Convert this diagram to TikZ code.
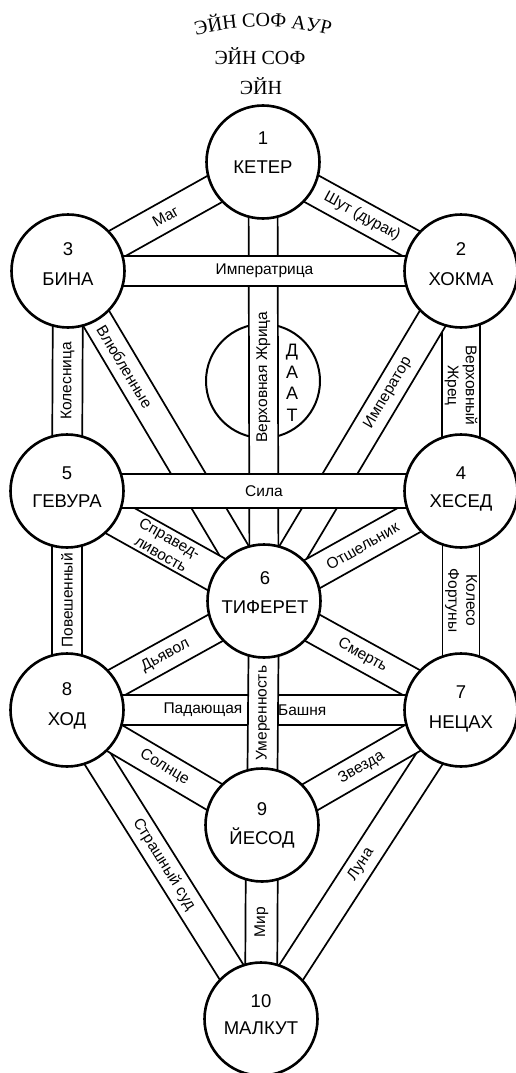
\documentclass[tikz,border=0pt]{standalone}
\usepackage{fontspec}
\setmainfont{Liberation Sans}
\newfontfamily\topfam{Liberation Serif}
\usetikzlibrary{calc,decorations.text}
\pgfdeclarelayer{back}
\pgfdeclarelayer{bg}
\pgfsetlayers{back,bg,main}
\tikzset{
  sefira/.style={circle, draw, line width=2.6pt, fill=white, minimum size=113pt, inner sep=0pt},
  daatc/.style={circle, draw, line width=2pt, fill=white, minimum size=114pt, inner sep=0pt},
  bandbox/.style={draw, line width=1.7pt, fill=white, line join=miter},
  plabel/.style={font=\fontsize{15.5}{18}\selectfont, inner sep=0pt, align=center},
  nlabel/.style={font=\fontsize{18.5}{20}\selectfont, inner sep=0pt, text height=13pt, text depth=0pt},
  toptext/.style={font=\topfam\fontsize{20}{22}\selectfont, inner sep=0pt},
}
\newcommand\band[3]{%
  \path[bandbox] ($(#1)!#3!90:(#2)$) -- ($(#2)!#3!-90:(#1)$) -- ($(#2)!#3!90:(#1)$) -- ($(#1)!#3!-90:(#2)$) -- cycle;}
\begin{document}
\begin{tikzpicture}[x=1pt,y=-1pt]
\useasboundingbox (0,0) rectangle (516,1073);
\begin{pgfonlayer}{back}
  \fill[white] (0,0) rectangle (516,1073);
\end{pgfonlayer}

% top texts
\path[decorate, decoration={text along path, text align=center,
  text={|\topfam\fontsize{20}{22}\selectfont|ЭЙН СОФ АУР}}]
  (188,37.3) arc[start angle=254.3, end angle=285.7, radius=277];
\node[toptext] (einsof) at (260,56) {ЭЙН СОФ};
\node[toptext] (ein) at (261,86) {ЭЙН};

% sefirot
\node[sefira] (keter)   at (263,162) {};
\node[sefira] (bina)    at (68,271) {};
\node[sefira] (hokma)   at (461,271) {};
\node[sefira] (gevura)  at (67,491) {};
\node[sefira] (hesed)   at (461,491) {};
\node[sefira] (tiferet) at (264,601) {};
\node[sefira] (hod)     at (67,710) {};
\node[sefira] (netzach) at (461,710) {};
\node[sefira] (yesod)   at (262,825) {};
\node[sefira] (malkut)  at (261,1019) {};

\node[nlabel] (n1) at (263,138) {1};
\node[nlabel] (t1) at (263,167) {КЕТЕР};
\node[nlabel] (n3) at (68,249) {3};
\node[nlabel] (t3) at (68,279) {БИНА};
\node[nlabel] (n2) at (461,249) {2};
\node[nlabel] (t2) at (461,279) {ХОКМА};
\node[nlabel] (n5) at (67,473) {5};
\node[nlabel] (t5) at (67,501) {ГЕВУРА};
\node[nlabel] (n4) at (461,473) {4};
\node[nlabel] (t4) at (461,501) {ХЕСЕД};
\node[nlabel] (n6) at (265,578) {6};
\node[nlabel] (t6) at (265,607) {ТИФЕРЕТ};
\node[nlabel] (n8) at (67,689) {8};
\node[nlabel] (t8) at (67,719) {ХОД};
\node[nlabel] (n7) at (461,692) {7};
\node[nlabel] (t7) at (461,722) {НЕЦАХ};
\node[nlabel] (n9) at (262,809) {9};
\node[nlabel] (t9) at (262,838) {ЙЕСОД};
\node[nlabel] (n10) at (261,1001) {10};
\node[nlabel] (t10) at (261,1028) {МАЛКУТ};

\begin{pgfonlayer}{bg}
  \node[daatc] (daat) at (263,381) {};
  \node[plabel, font=\fontsize{18}{21.5}\selectfont] (daatl) at (292,383) {Д\\А\\А\\Т};

  \band{keter}{bina}{15pt}
  \node[plabel, rotate=29] (lmag) at ($(keter)!.5!(bina)$) {Маг};
  \band{keter}{hokma}{15pt}
  \node[plabel, rotate=-28.6] (lshut) at ($(keter)!.5!(hokma)$) {Шут (дурак)};
  \band{bina}{gevura}{15pt}
  \node[plabel, rotate=90] (lkol) at ($(bina)!.5!(gevura)$) {Колесница};
  \band{hokma}{hesed}{19pt}
  \node[plabel, rotate=-90] (lzhrets) at ($(hokma)!.52!(hesed)$) {Верховный\\Жрец};
  \band{bina}{tiferet}{15pt}
  \node[plabel, rotate=-59] (lvl) at ($(bina)!.29!(tiferet)$) {Влюбленные};
  \band{hokma}{tiferet}{15pt}
  \node[plabel, rotate=59.5] (limpr) at ($(hokma)!.37!(tiferet)$) {Император};
  \band{keter}{tiferet}{14.5pt}
  \node[plabel, rotate=90] (lzhr) at ($(keter)!.49!(tiferet)$) {Верховная Жрица};
  \band{bina}{hokma}{15pt}
  \node[plabel] (limpa) at ($(bina)!.5!(hokma)$) {Императрица};
  \band{gevura}{tiferet}{18pt}
  \node[plabel, rotate=-29.4] (lspr) at ($(gevura)!.5!(tiferet)$) {Справед-\\ливость};
  \band{hesed}{tiferet}{16pt}
  \node[plabel, rotate=30] (lotsh) at ($(hesed)!.5!(tiferet)$) {Отшельник};
  \band{gevura}{hesed}{17pt}
  \node[plabel] (lsila) at ($(gevura)!.5!(hesed)$) {Сила};

  \band{gevura}{hod}{15pt}
  \node[plabel, rotate=90] (lpov) at ($(gevura)!.5!(hod)$) {Повешенный};
  \band{hesed}{netzach}{18.5pt}
  \node[plabel, rotate=-90] (lkoleso) at ($(hesed)!.5!(netzach)$) {Колесо\\Фортуны};
  \band{hod}{tiferet}{15pt}
  \node[plabel, rotate=28] (ldyav) at ($(hod)!.5!(tiferet)$) {Дьявол};
  \band{tiferet}{netzach}{15pt}
  \node[plabel, rotate=-29] (lsmert) at ($(tiferet)!.5!(netzach)$) {Смерть};
  \band{hod}{malkut}{14pt}
  \node[plabel, rotate=-58] (lsud) at ($(hod)!.5!(malkut)$) {Страшный суд};
  \band{netzach}{malkut}{14pt}
  \node[plabel, rotate=57] (lluna) at ($(netzach)!.5!(malkut)$) {Луна};
  \band{hod}{yesod}{15pt}
  \node[plabel, rotate=-30.7] (lsol) at ($(hod)!.5!(yesod)$) {Солнце};
  \band{yesod}{netzach}{15pt}
  \node[plabel, rotate=29.5] (lzv) at ($(yesod)!.5!(netzach)$) {Звезда};
  \band{hod}{netzach}{15pt}
  \node[plabel] (lpad) at ($(hod)!.345!(netzach)$) {Падающая};
  \node[plabel] (lbash) at ($(hod)!.597!(netzach)$) {Башня};
  \band{tiferet}{yesod}{15pt}
  \node[plabel, rotate=90] (lumer) at ($(tiferet)!.5!(yesod)$) {Умеренность};
  \band{yesod}{malkut}{16pt}
  \node[plabel, rotate=90] (lmir) at ($(yesod)!.5!(malkut)$) {Мир};
\end{pgfonlayer}
\end{tikzpicture}
\end{document}
